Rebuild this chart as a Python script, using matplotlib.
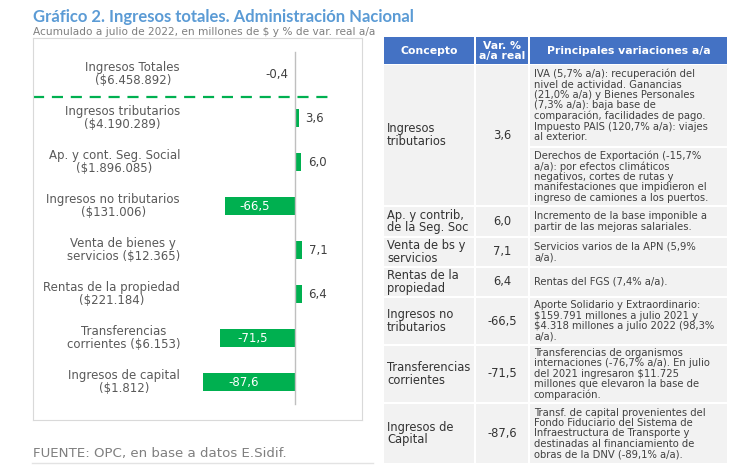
import matplotlib
matplotlib.use("Agg")
import matplotlib.pyplot as plt
from matplotlib.patches import Rectangle
from matplotlib.lines import Line2D

plt.rcParams['font.family'] = ['DejaVu Sans']
plt.rcParams['text.parse_math'] = False

# chart data
categories = ["Ingresos Totales\n($6.458.892)",
              "Ingresos tributarios\n($4.190.289)",
              "Ap. y cont. Seg. Social\n($1.896.085)",
              "Ingresos no tributarios\n($131.006)",
              "Venta de bienes y\nservicios ($12.365)",
              "Rentas de la propiedad\n($221.184)",
              "Transferencias\ncorrientes ($6.153)",
              "Ingresos de capital\n($1.812)"]
values = [-0.4, 3.6, 6.0, -66.5, 7.1, 6.4, -71.5, -87.6]

# table data
col_headers = ["Concepto", "Var. %\na/a real", "Principales variaciones a/a"]
concepts = ["Ingresos\ntributarios", "Ap. y contrib,\nde la Seg. Soc", "Venta de bs y\nservicios",
            "Rentas de la\npropiedad", "Ingresos no\ntributarios", "Transferencias\ncorrientes",
            "Ingresos de\nCapital"]
table_vars = ["3,6", "6,0", "7,1", "6,4", "-66,5", "-71,5", "-87,6"]
details = [
    ["IVA (5,7% a/a): recuperación del\nnivel de actividad. Ganancias\n(21,0% a/a) y Bienes Personales\n"
     "(7,3% a/a): baja base de\ncomparación, facilidades de pago.\nImpuesto PAIS (120,7% a/a): viajes\nal exterior.",
     "Derechos de Exportación (-15,7%\na/a): por efectos climáticos\nnegativos, cortes de rutas y\n"
     "manifestaciones que impidieron el\ningreso de camiones a los puertos."],
    ["Incremento de la base imponible a\npartir de las mejoras salariales."],
    ["Servicios varios de la APN (5,9%\na/a)."],
    ["Rentas del FGS (7,4% a/a)."],
    ["Aporte Solidario y Extraordinario:\n$159.791 millones a julio 2021 y\n$4.318 millones a julio 2022 (98,3%\na/a)."],
    ["Transferencias de organismos\ninternaciones (-76,7% a/a). En julio\ndel 2021 ingresaron $11.725\n"
     "millones que elevaron la base de\ncomparación."],
    ["Transf. de capital provenientes del\nFondo Fiduciario del Sistema de\nInfraestructura de Transporte y\n"
     "destinadas al financiamiento de\nobras de la DNV (-89,1% a/a)."],
]

W, H = 737, 475
GREEN = "#00B050"
BLUE_HEAD = "#4472C4"
CELL = "#F2F2F2"
TXT = "#404040"


def fx(x):
    return x / W


def fy(y):
    return 1 - y / H


fig = plt.figure(figsize=(W / 100, H / 100), dpi=100)

fig.text(fx(33), fy(17), "Gráfico 2. Ingresos totales. Administración Nacional",
         fontsize=12, fontweight="bold", color="#5B9BD5", va="center", family="Lato")
fig.text(fx(33), fy(32), "Acumulado a julio de 2022, en millones de $ y % de var. real a/a",
         fontsize=7.55, color="#7F7F7F", va="center")

# bar chart
ax = fig.add_axes([fx(33), fy(420), (362 - 33) / W, (420 - 38) / H])
px_per_unit = 1.05
ax.set_xlim((33 - 295) / px_per_unit, (362 - 295) / px_per_unit)
ax.set_ylim((420 - 74) / 44, (38 - 74) / 44)
ypos = list(range(len(values)))
ax.barh(ypos, values, height=0.39, color=GREEN)
ax.plot([0, 0], [-0.5, 7.5], color="#BFBFBF", lw=1, zorder=1)
ax.plot([-250, 38], [0.52, 0.52], color=GREEN, lw=1.6, ls=(0, (5, 3.5)))
for sp in ax.spines.values():
    sp.set_color("#D9D9D9")
ax.set_xticks([])
ax.set_yticks([])

lbl_x = (180 - 33) / (362 - 33)
for i, (cat, v) in enumerate(zip(categories, values)):
    ax.text(lbl_x, i, cat, transform=ax.get_yaxis_transform(), ha="right", va="center",
            ma="center", fontsize=8.5, color="#595959", linespacing=1.0)
    s = f"{v:.1f}".replace(".", ",")
    if v >= 0:
        ax.text(v + 6.5, i, s, ha="left", va="center", fontsize=8.5, color=TXT)
    elif v > -5:
        ax.text(v - 6, i, s, ha="right", va="center", fontsize=8.5, color=TXT)
    else:
        ax.text(v / 2 - 5, i, s, ha="center", va="center", fontsize=8.5, color="white")

fig.text(fx(33), fy(453), "FUENTE: OPC, en base a datos E.Sidif.", fontsize=9.6,
         color="#7F7F7F", va="center")
fig.add_artist(Line2D([fx(32), fx(373)], [fy(463), fy(463)], color="#E3E3E3", lw=1))

# table
cols = [(384, 474), (476, 528), (530, 727)]
row_bounds = [(65, 205), (207, 236), (238, 266), (268, 296), (298, 344), (346, 402), (404, 463)]
sub_bounds = {0: [(65, 146), (148, 205)]}


def cell(x0, x1, y0, y1, color):
    fig.add_artist(Rectangle((fx(x0), fy(y1)), fx(x1) - fx(x0), fy(y0) - fy(y1),
                             transform=fig.transFigure, facecolor=color, edgecolor="none"))


for (x0, x1), head in zip(cols, col_headers):
    cell(x0, x1, 37, 64, BLUE_HEAD)
    fig.text(fx((x0 + x1) / 2), fy(51), head, ha="center", va="center", ma="center",
             fontsize=7.8, fontweight="bold", color="white", linespacing=0.95)

for r, (y0, y1) in enumerate(row_bounds):
    for c in range(2):
        cell(cols[c][0], cols[c][1], y0, y1, CELL)
    fig.text(fx(387), fy((y0 + y1) / 2), concepts[r], ha="left", va="center",
             fontsize=8.3, color="#333333", linespacing=0.95)
    fig.text(fx((cols[1][0] + cols[1][1]) / 2), fy((y0 + y1) / 2), table_vars[r],
             ha="center", va="center", fontsize=8.3, color="#333333")
    parts = sub_bounds.get(r, [(y0, y1)])
    for (s0, s1), txt in zip(parts, details[r]):
        cell(cols[2][0], cols[2][1], s0, s1, CELL)
        fig.text(fx(534), fy((s0 + s1) / 2), txt, ha="left", va="center",
                 fontsize=7.2, color=TXT, linespacing=1.05)

fig.savefig("out.png", dpi=100)
